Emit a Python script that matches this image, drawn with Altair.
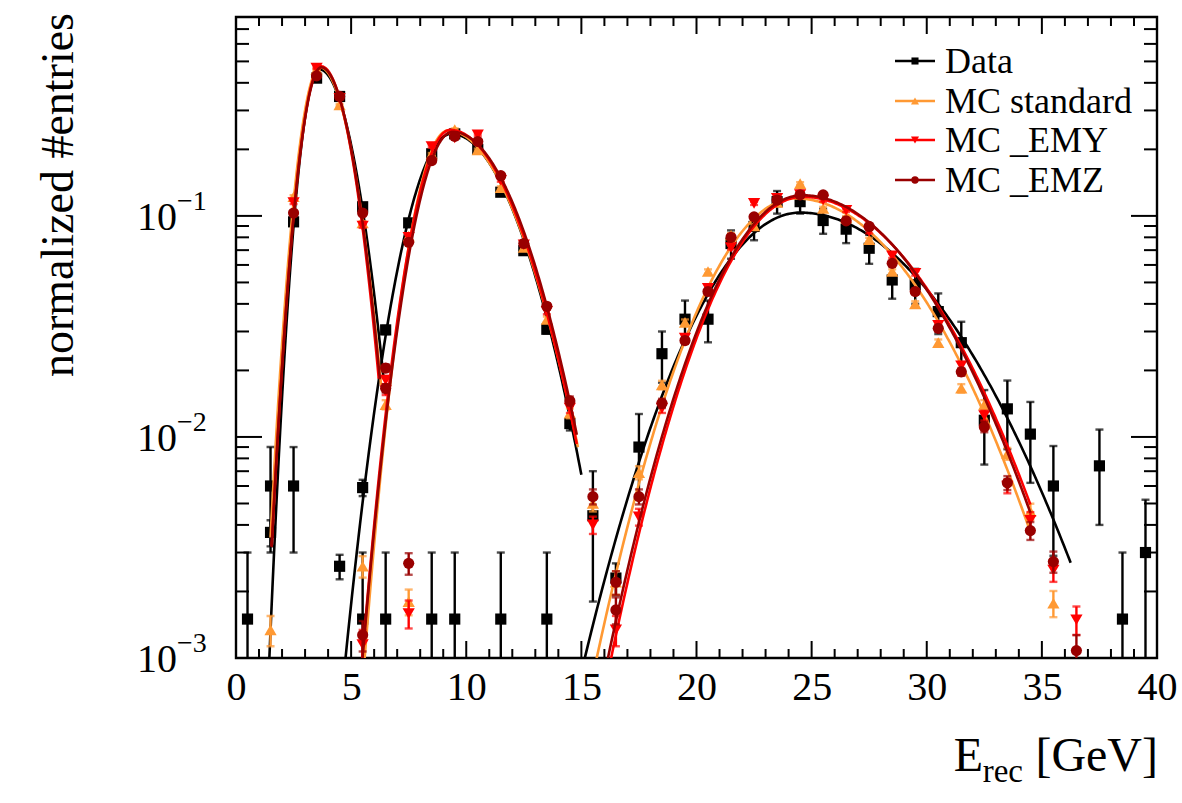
import numpy as np
import pandas as pd
import altair as alt

# ---------------------------------------------------------------- layout
W, H = 921, 641          # plot area in px
FONT = "Liberation Serif"

SERIES = ["Data", "MC standard", "MC _EMY", "MC _EMZ"]
COLORS = ["#000000", "#FF9933", "#FF0000", "#990000"]
SHAPES = ["square", "triangle-up", "triangle-down", "circle"]
SIZES = [125, 150, 150, 125]
LEG_SIZES = [50, 65, 65, 55]

# ---------------------------------------------------------------- measured bins (1 GeV bins)
DATA_X = [0.5, 1.5, 1.5, 2.5, 2.5, 3.5, 4.5, 4.5, 5.5, 5.5, 5.5, 6.5, 6.5, 7.5, 8.5, 8.5,
          9.5, 9.5, 10.5, 11.5, 11.5, 12.5, 13.5, 13.5, 14.5, 15.5, 16.5, 17.5, 18.5, 19.5,
          20.5, 21.5, 22.5, 23.5, 24.5, 25.5, 26.5, 27.5, 28.5, 29.5, 30.5, 31.5, 32.5,
          33.5, 34.5, 35.5, 37.5, 38.5, 39.5]
DATA_Y = [1.5e-3, 3.7e-3, 6.0e-3, 0.094, 6.0e-3, 0.42, 0.347, 2.6e-3, 0.110, 5.9e-3, 1.5e-3,
          0.0305, 1.5e-3, 0.093, 0.191, 1.5e-3, 0.235, 1.5e-3, 0.200, 0.128, 1.5e-3, 0.0696,
          0.0307, 1.5e-3, 0.0115, 4.4e-3, 2.3e-3, 9.0e-3, 0.0238, 0.0341, 0.0341, 0.075,
          0.0896, 0.116, 0.116, 0.0953, 0.0871, 0.0714, 0.0513, 0.0488, 0.0369, 0.0267,
          0.0119, 0.0134, 0.0103, 0.0060, 0.0074, 1.5e-3, 3.0e-3]
DATA_ERR = [1.5e-3, 0.5e-3, 3.0e-3, 0.003, 3.0e-3, 0.006, 0.005, 0.33e-3, 0.003, 0.5e-3,
            1.5e-3, 0.0013, 1.5e-3, 0.0025, 0.0035, 1.5e-3, 0.004, 1.5e-3, 0.0035, 0.0028,
            1.5e-3, 0.0019, 0.0013, 1.5e-3, 0.0008, 2.6e-3, 0.38e-3, 3.7e-3, 0.0062, 0.0073,
            0.0073, 0.011, 0.012, 0.0136, 0.0136, 0.0123, 0.0118, 0.0107, 0.0091, 0.0088,
            0.0077, 0.0065, 0.0044, 0.0046, 0.0041, 0.0031, 0.0034, 1.5e-3, 2.2e-3]

STD_X = [1.5, 2.5, 3.5, 4.5, 5.5, 7.5,
         5.5, 6.5, 7.5, 8.5, 9.5, 10.5, 11.5, 12.5, 13.5, 14.5, 15.5,
         16.5, 17.5, 18.5, 19.5, 20.5, 21.5, 22.5, 23.5, 24.5, 25.5, 26.5, 27.5, 28.5,
         29.5, 30.5, 31.5, 32.5, 33.5, 34.5, 35.5]
STD_Y = [1.34e-3, 0.122, 0.46, 0.318, 0.093, 1.8e-3,
         2.6e-3, 0.014, 0.081, 0.19, 0.246, 0.199, 0.134, 0.072, 0.034, 0.0128, 5.0e-3,
         2.2e-3, 6.9e-3, 0.0172, 0.033, 0.056, 0.082, 0.090, 0.115, 0.140, 0.108, 0.098,
         0.078, 0.056, 0.040, 0.0267, 0.0166, 0.014, 8.4e-3, 4.6e-3, 1.77e-3]
STD_ERR = [0.21e-3, 0.002, 0.004, 0.0032, 0.0017, 0.24e-3,
           0.29e-3, 0.00067, 0.0016, 0.0025, 0.0028, 0.0025, 0.0021, 0.0015, 0.00105,
           0.00065, 0.4e-3,
           0.27e-3, 0.47e-3, 0.00075, 0.001, 0.0013, 0.0016, 0.0017, 0.0019, 0.0021,
           0.0019, 0.0018, 0.0016, 0.0013, 0.0011, 0.0009, 0.00073, 0.00067, 0.52e-3,
           0.39e-3, 0.24e-3]

EMY_X = [2.5, 3.5, 4.5, 5.5, 6.5, 7.5,
         5.5, 6.5, 7.5, 8.5, 9.5, 10.5, 11.5, 12.5, 13.5, 14.5, 15.5,
         16.5, 17.5, 18.5, 19.5, 20.5, 21.5, 22.5, 23.5, 24.5, 25.5, 26.5, 27.5, 28.5,
         29.5, 30.5, 31.5, 32.5, 33.5, 34.5, 35.5, 36.5]
EMY_Y = [0.115, 0.466, 0.34, 0.090, 0.0181, 1.59e-3,
         1.15e-3, 0.0162, 0.080, 0.206, 0.225, 0.233, 0.145, 0.074, 0.037, 0.0135, 4.0e-3,
         1.34e-3, 4.35e-3, 0.0135, 0.028, 0.047, 0.072, 0.114, 0.120, 0.125, 0.118, 0.106,
         0.085, 0.066, 0.055, 0.032, 0.021, 0.0125, 6.0e-3, 4.2e-3, 2.5e-3, 1.49e-3]
EMY_ERR = [0.0019, 0.0039, 0.0033, 0.0017, 0.00077, 0.23e-3,
           0.19e-3, 0.00073, 0.0016, 0.0026, 0.0027, 0.0028, 0.0022, 0.0016, 0.0011,
           0.00066, 0.36e-3,
           0.21e-3, 0.38e-3, 0.00066, 0.00095, 0.0012, 0.0015, 0.0019, 0.002, 0.002, 0.002,
           0.0019, 0.0017, 0.0015, 0.0013, 0.001, 0.00083, 0.00064, 0.44e-3, 0.37e-3,
           0.29e-3, 0.22e-3]

EMZ_X = [2.5, 3.5, 4.5, 5.5, 6.5, 7.5,
         5.5, 6.5, 7.5, 8.5, 9.5, 10.5, 11.5, 12.5, 13.5, 14.5, 15.5,
         16.5, 16.5, 17.5, 18.5, 19.5, 20.5, 21.5, 22.5, 23.5, 24.5, 25.5, 26.5, 27.5,
         28.5, 29.5, 30.5, 31.5, 32.5, 33.5, 34.5, 35.5, 36.5]
EMZ_Y = [0.103, 0.43, 0.347, 0.103, 0.0205, 2.68e-3,
         1.27e-3, 0.0166, 0.076, 0.178, 0.229, 0.217, 0.152, 0.075, 0.039, 0.01455, 5.37e-3,
         2.2e-3, 1.65e-3, 5.37e-3, 0.0142, 0.0273, 0.0455, 0.080, 0.099, 0.118, 0.1245,
         0.1245, 0.095, 0.0896, 0.061, 0.0455, 0.031, 0.0197, 0.0111, 6.2e-3, 3.77e-3,
         2.73e-3, 1.08e-3]
EMZ_ERR = [0.0018, 0.0037, 0.0034, 0.0018, 0.0008, 0.3e-3,
           0.2e-3, 0.00073, 0.0016, 0.0024, 0.0027, 0.0027, 0.0022, 0.0016, 0.0011,
           0.00069, 0.42e-3,
           0.27e-3, 0.23e-3, 0.42e-3, 0.00068, 0.00094, 0.0012, 0.0016, 0.0018, 0.002,
           0.002, 0.002, 0.0017, 0.0017, 0.0014, 0.0012, 0.001, 0.0008, 0.0006, 0.45e-3,
           0.35e-3, 0.3e-3, 0.19e-3]

POINTS = {
    "Data": (DATA_X, DATA_Y, DATA_ERR),
    "MC standard": (STD_X, STD_Y, STD_ERR),
    "MC _EMY": (EMY_X, EMY_Y, EMY_ERR),
    "MC _EMZ": (EMZ_X, EMZ_Y, EMZ_ERR),
}

# ---------------------------------------------------------------- fit results (asymmetric gaussian per peak)
FIT_SERIES = ["Data"] * 3 + ["MC standard"] * 3 + ["MC _EMY"] * 3 + ["MC _EMZ"] * 3
FIT_PEAK = ["A", "B", "C"] * 4
FIT_AMP = [0.46, 0.235, 0.1035, 0.47, 0.243, 0.12, 0.475, 0.245, 0.122, 0.47, 0.24, 0.124]
FIT_MEAN = [3.62, 9.35, 24.5, 3.65, 9.2, 24.3, 3.7, 9.3, 24.6, 3.7, 9.4, 24.6]
FIT_SIG_LO = [0.62, 1.39, 3.07, 0.687, 1.09, 2.79, 0.68, 1.15, 2.68, 0.68, 1.18, 2.72]
FIT_SIG_HI = [1.10, 2.12, 4.35, 1.03, 2.2, 3.87, 0.98, 2.15, 3.91, 1.0, 2.15, 3.85]
FIT_XMIN = [1.45, 4.7, 15.0, 1.5, 5.4, 15.5, 1.55, 5.3, 16.0, 1.55, 5.3, 15.9]
FIT_XMAX = [6.4, 15.0, 36.25, 6.3, 14.85, 34.45, 6.2, 14.8, 34.5, 6.25, 14.8, 34.5]

curve_rows = []
for s, p, a, m, sl, sh, x0, x1 in zip(FIT_SERIES, FIT_PEAK, FIT_AMP, FIT_MEAN,
                                      FIT_SIG_LO, FIT_SIG_HI, FIT_XMIN, FIT_XMAX):
    xs = np.linspace(x0, x1, 300)
    sig = np.where(xs < m, sl, sh)
    ys = a * np.exp(-0.5 * ((xs - m) / sig) ** 2)
    for xv, yv in zip(xs, ys):
        curve_rows.append({"series": s, "peak": p, "x": float(xv), "y": float(yv)})
curves = pd.DataFrame(curve_rows)

# ---------------------------------------------------------------- scales / encodings
YMIN, YMAX = 1e-3, 0.794
xscale = alt.Scale(domain=[0, 40], nice=False, zero=False)
yscale = alt.Scale(type="log", domain=[YMIN, YMAX], nice=False)
xaxis = alt.Axis(values=list(range(0, 41, 5)), title=None, ticks=False, domain=False,
                 grid=False, labelFont=FONT, labelFontSize=40, labelColor="black",
                 labelPadding=9, labelFlush=False, labelOverlap=False, format="d")


def X(field):
    return alt.X(f"{field}:Q", scale=xscale, axis=xaxis)


def Y(field):
    return alt.Y(f"{field}:Q", scale=yscale, axis=None)


layers = []

# series: fit curves, error bars, markers
for name, color, shape, size in zip(SERIES, COLORS, SHAPES, SIZES):
    xs, ys, es = POINTS[name]
    df = pd.DataFrame({"x": xs, "y": ys, "err": es})
    df["hi"] = df["y"] + df["err"]
    df["lo"] = (df["y"] - df["err"]).clip(lower=1e-5)
    lo_caps = df[df["lo"] >= YMIN]

    layers.append(
        alt.Chart(curves[curves["series"] == name])
        .mark_line(color=color, strokeWidth=2.6, clip=True)
        .encode(x=X("x"), y=Y("y"), detail="peak:N")
    )
    layers.append(
        alt.Chart(df).mark_rule(color=color, strokeWidth=2.4, clip=True)
        .encode(x=X("x"), y=Y("lo"), y2="hi")
    )
    layers.append(
        alt.Chart(df).mark_tick(color=color, orient="horizontal", size=8, thickness=2.4,
                                clip=True)
        .encode(x=X("x"), y=Y("hi"))
    )
    layers.append(
        alt.Chart(lo_caps).mark_tick(color=color, orient="horizontal", size=8,
                                     thickness=2.4, clip=True)
        .encode(x=X("x"), y=Y("lo"))
    )
    layers.append(
        alt.Chart(df).mark_point(shape=shape, filled=True, size=size, color=color,
                                 opacity=1, clip=True)
        .encode(x=X("x"), y=Y("y"))
    )

# ---------------------------------------------------------------- inward ticks on all four sides
XT_MAJOR = list(range(0, 41, 5))
XT_MINOR = [v for v in range(1, 40) if v % 5]
YT_MAJOR = [1e-3, 1e-2, 1e-1]
YT_MINOR = [k * d for d in (1e-3, 1e-2, 1e-1) for k in range(2, 10) if k * d <= YMAX]

for vals, length in ((XT_MAJOR, 17), (XT_MINOR, 9)):
    tdf = pd.DataFrame({"t": vals})
    layers.append(alt.Chart(tdf).mark_rule(color="black", strokeWidth=2)
                  .encode(x=X("t"), y=alt.value(H), y2=alt.value(H - length)))
    layers.append(alt.Chart(tdf).mark_rule(color="black", strokeWidth=2)
                  .encode(x=X("t"), y=alt.value(0), y2=alt.value(length)))

for vals, length in ((YT_MAJOR, 26), (YT_MINOR, 13)):
    tdf = pd.DataFrame({"t": vals})
    layers.append(alt.Chart(tdf).mark_rule(color="black", strokeWidth=2)
                  .encode(y=Y("t"), x=alt.value(0), x2=alt.value(length)))
    layers.append(alt.Chart(tdf).mark_rule(color="black", strokeWidth=2)
                  .encode(y=Y("t"), x=alt.value(W), x2=alt.value(W - length)))

# ---------------------------------------------------------------- y labels as 10^n
YLAB_V = [1e-3, 1e-2, 1e-1]
YLAB_EXP = ["\u22123", "\u22122", "\u22121"]
ylab = pd.DataFrame({"v": YLAB_V, "exp": YLAB_EXP, "base": ["10"] * 3})
layers.append(alt.Chart(ylab).mark_text(font=FONT, fontSize=40, align="right",
                                        baseline="middle", color="black", dy=2)
              .encode(y=Y("v"), x=alt.value(-59), text="base:N"))
layers.append(alt.Chart(ylab).mark_text(font=FONT, fontSize=28, align="left",
                                        baseline="middle", color="black", dy=-14)
              .encode(y=Y("v"), x=alt.value(-59), text="exp:N"))

# ---------------------------------------------------------------- axis titles
layers.append(alt.Chart(pd.DataFrame({"t": ["normalized #entries"]}))
              .mark_text(font=FONT, fontSize=46, angle=270, align="right",
                         baseline="middle", color="black")
              .encode(x=alt.value(-177), y=alt.value(-4), text="t:N"))

xt = pd.DataFrame({"t": ["E", "rec", "[GeV]"], "px": [747, 787, 922],
                   "py": [754, 765, 754], "fs": [48, 33, 48]})
for i in range(3):
    row = xt.iloc[[i]]
    layers.append(alt.Chart(row).mark_text(font=FONT, fontSize=int(row["fs"].iloc[0]),
                                           align="right", baseline="alphabetic",
                                           color="black")
                  .encode(x=alt.value(float(row["px"].iloc[0])),
                          y=alt.value(float(row["py"].iloc[0])), text="t:N"))

# ---------------------------------------------------------------- legend
LEG_Y = [44, 84, 123, 163]
for name, color, shape, lsize, ly in zip(SERIES, COLORS, SHAPES, LEG_SIZES, LEG_Y):
    one = pd.DataFrame({"t": [name]})
    layers.append(alt.Chart(one).mark_rule(color=color, strokeWidth=2.6)
                  .encode(x=alt.value(659), x2=alt.value(699), y=alt.value(ly)))
    layers.append(alt.Chart(one).mark_point(shape=shape, filled=True, size=lsize,
                                            color=color, opacity=1)
                  .encode(x=alt.value(679), y=alt.value(ly)))
    layers.append(alt.Chart(one).mark_text(font=FONT, fontSize=36, align="left",
                                           baseline="middle", color="black")
                  .encode(x=alt.value(709), y=alt.value(ly + 1), text="t:N"))

chart = (
    alt.layer(*layers)
    .properties(width=W, height=H, autosize=alt.AutoSizeParams(type="none"),
                padding={"left": 236, "top": 17, "right": 25, "bottom": 145},
                background="white")
    .configure_view(stroke="black", strokeWidth=2.4)
)

chart.save("out.html", embed_options={"renderer": "svg", "actions": False})
